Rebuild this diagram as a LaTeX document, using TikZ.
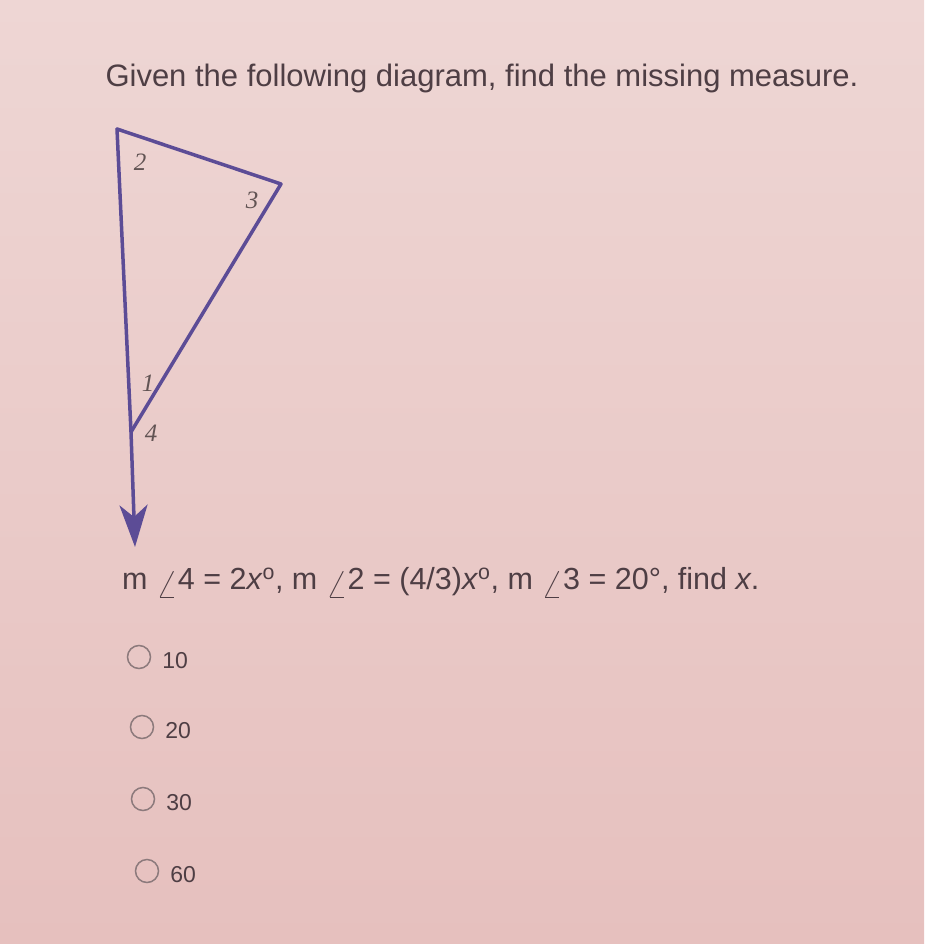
\documentclass[tikz,border=0pt]{standalone}
\usepackage{fontspec}
\setmainfont{Liberation Sans}
\newfontfamily\labfont{Liberation Serif}
\usetikzlibrary{arrows.meta}
\definecolor{bgtop}{RGB}{238,214,212}
\definecolor{bgbot}{RGB}{230,192,190}
\definecolor{ink}{RGB}{78,62,68}
\definecolor{tri}{RGB}{92,76,150}
\definecolor{lab}{RGB}{98,84,84}
\definecolor{radio}{RGB}{140,122,124}
\newcommand{\ang}{\raisebox{-0.5ex}{\scalebox{1.35}{$\angle$}}}
\tikzset{side/.style={draw=tri, line width=3.5pt, line cap=round, line join=round},
  anglab/.style={text=lab, font=\labfont\itshape\fontsize{25}{25}\selectfont, inner sep=0pt},
  radiobtn/.style={draw=radio, line width=1.5pt, circle, minimum size=23pt, inner sep=0pt},
  choice/.style={text=ink, font=\fontsize{23}{23}\selectfont, anchor=west, inner sep=0pt}}
\begin{document}
\begin{tikzpicture}[x=1pt, y=-1pt]
  \shade[top color=bgtop, bottom color=bgbot] (0,0) rectangle (924,944);
  \useasboundingbox (0,0) rectangle (924,944);
  \node[text=ink, font=\fontsize{31}{31}\selectfont, inner sep=0pt] (title) at (482,78) {Given the following diagram, find the missing measure.};
  % triangle with extended side
  \coordinate (top) at (117,129);
  \coordinate (right) at (281,184);
  \coordinate (bot) at (131,432);
  \coordinate (tip) at (135,547);
  \draw[side] (top) -- (right) -- (bot);
  \draw[side, -{Stealth[length=42pt, width=28pt, inset=12pt]}] (top) -- (bot) -- (tip);
  \foreach \n/\x/\y in {2/140/162, 3/252/200, 1/148/383, 4/151/433}
    \node[anglab] (a\n) at (\x,\y) {\n};
  \node[text=ink, font=\fontsize{30.5}{30.5}\selectfont, anchor=west, inner sep=0pt] (given) at (122,582)
    {m \ang4 = 2\textit{x}\textsuperscript{o}, m \ang2 = (4/3)\textit{x}\textsuperscript{o}, m \ang3 = 20°, find \textit{x}.};
  % answer choices
  \foreach \v/\x/\y [count=\i] in {10/139/657, 20/142/727, 30/143/799, 60/147/871}{
    \node[radiobtn] (r\i) at (\x,\y) {};
    \node[choice] (c\i) at ([xshift=11pt, yshift=-4pt]r\i.east) {\v};
  }
\end{tikzpicture}
\end{document}
